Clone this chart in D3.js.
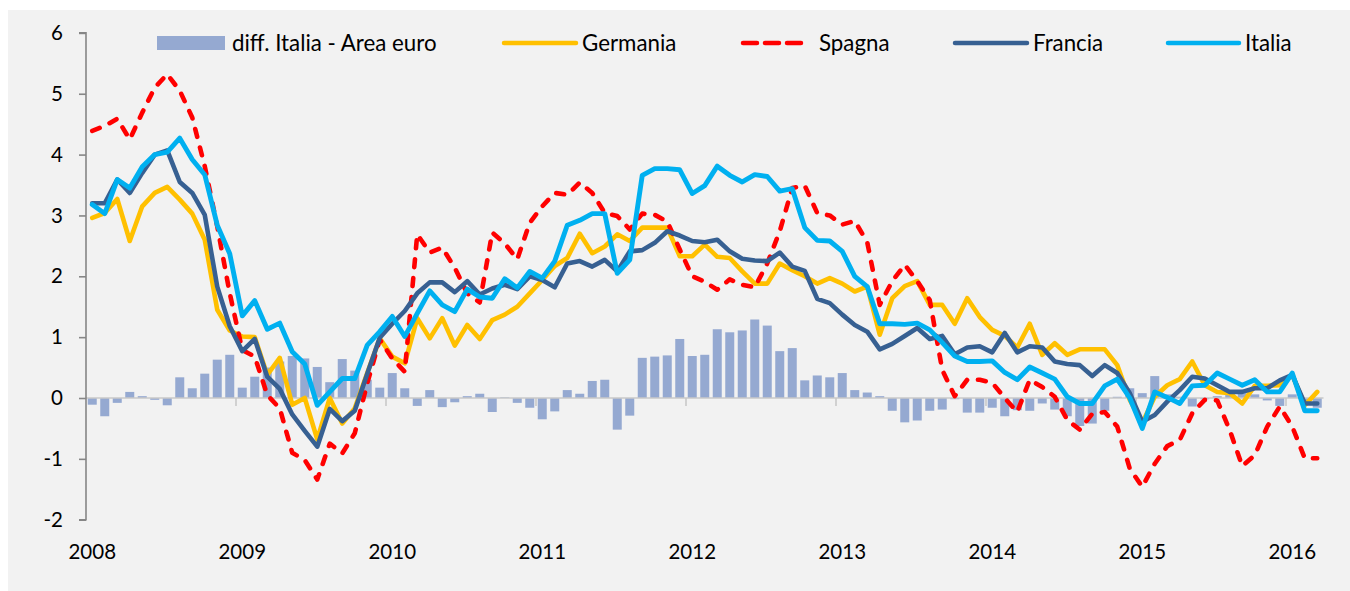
<!DOCTYPE html>
<html><head><meta charset="utf-8">
<script src="https://cdn.jsdelivr.net/npm/d3@7"></script>
<style>
body{margin:0;background:#fff}
svg{display:block}
text{font-family:Lato,"Open Sans",sans-serif;fill:#000}
</style>
</head><body>
<svg id="chart" width="1350" height="591"></svg>
<script>
// ---------- DATA ----------
const years = ["2008","2009","2010","2011","2012","2013","2014","2015","2016"];
const categories = [];
for (let i = 0; i < 99; i++) categories.push(years[Math.floor(i / 12)] + "-" + String(i % 12 + 1).padStart(2, "0"));
const yTicks = [-2, -1, 0, 1, 2, 3, 4, 5, 6];

const diffItaliaEuro = [
 -0.11,-0.30,-0.08,0.10,0.03,-0.03,-0.12,0.34,0.16,0.40,0.63,0.71,
 0.17,0.35,0.50,0.60,0.69,0.65,0.51,0.26,0.64,0.45,0.30,0.17,
 0.41,0.16,-0.13,0.13,-0.15,-0.07,0.03,0.07,-0.23,0.01,-0.08,-0.16,
 -0.35,-0.22,0.13,0.07,0.28,0.30,-0.52,-0.29,0.66,0.68,0.70,0.97,
 0.69,0.71,1.13,1.08,1.11,1.29,1.19,0.77,0.82,0.29,0.37,0.34,
 0.41,0.13,0.09,0.03,-0.21,-0.40,-0.37,-0.21,-0.19,-0.02,-0.24,-0.24,
 -0.16,-0.30,-0.20,-0.21,-0.09,-0.19,-0.30,-0.46,-0.42,-0.21,0.02,0.16,
 0.08,0.36,0.06,0.02,-0.14,-0.02,0.03,0.13,0.08,0.06,-0.04,-0.13,
 0.06,-0.08,-0.16];

const germania = [
 2.96,3.04,3.27,2.58,3.15,3.37,3.47,3.26,3.03,2.60,1.45,1.11,
 1.01,1.00,0.38,0.66,-0.11,0.00,-0.68,0.00,-0.42,-0.17,0.41,0.98,
 0.68,0.57,1.31,0.98,1.31,0.86,1.20,0.97,1.28,1.37,1.50,1.72,
 1.94,2.17,2.30,2.70,2.38,2.49,2.69,2.58,2.80,2.80,2.80,2.33,
 2.33,2.52,2.32,2.30,2.08,1.88,1.88,2.21,2.10,2.00,1.88,1.97,
 1.88,1.75,1.83,1.04,1.64,1.84,1.92,1.53,1.53,1.22,1.64,1.33,
 1.12,1.02,0.83,1.22,0.71,0.90,0.71,0.80,0.80,0.80,0.54,-0.03,
 -0.41,0.02,0.21,0.31,0.60,0.21,0.10,0.08,-0.09,0.20,0.20,0.21,
 0.38,-0.12,0.10];

const spagna = [
 4.39,4.47,4.59,4.25,4.69,5.10,5.32,5.05,4.61,3.81,2.82,1.72,
 0.79,0.68,0.05,-0.17,-0.90,-1.02,-1.34,-0.75,-0.91,-0.58,0.24,0.96,
 0.65,0.43,2.69,2.39,2.47,2.14,1.72,1.57,2.72,2.54,2.28,2.88,
 3.15,3.37,3.34,3.54,3.37,3.04,2.99,2.77,3.03,3.01,2.90,2.44,
 2.00,1.91,1.78,1.95,1.86,1.82,2.21,2.74,3.45,3.49,3.04,3.00,
 2.85,2.91,2.56,1.53,1.92,2.19,1.92,1.61,0.46,0.03,0.30,0.30,
 0.25,0.00,-0.23,0.30,0.18,0.02,-0.36,-0.52,-0.26,-0.23,-0.47,-1.16,
 -1.46,-1.08,-0.79,-0.69,-0.25,-0.03,-0.04,-0.53,-1.12,-0.94,-0.47,-0.14,
 -0.47,-0.99,-0.99];

const francia = [
 3.20,3.20,3.59,3.37,3.70,4.00,4.07,3.55,3.37,3.01,1.83,1.18,
 0.77,0.97,0.35,0.15,-0.27,-0.54,-0.80,-0.18,-0.38,-0.21,0.40,0.99,
 1.22,1.43,1.72,1.90,1.90,1.74,1.92,1.70,1.80,1.86,1.79,2.00,
 1.94,1.82,2.21,2.25,2.16,2.27,2.08,2.41,2.43,2.55,2.74,2.67,
 2.58,2.56,2.60,2.41,2.29,2.26,2.25,2.39,2.16,2.09,1.63,1.56,
 1.37,1.20,1.09,0.80,0.89,1.02,1.15,0.97,1.02,0.72,0.83,0.85,
 0.75,1.07,0.75,0.85,0.83,0.60,0.56,0.54,0.36,0.54,0.41,0.08,
 -0.39,-0.28,-0.06,0.13,0.35,0.32,0.21,0.10,0.10,0.16,0.16,0.29,
 0.38,-0.09,-0.09];

const italia = [
 3.18,3.03,3.59,3.45,3.80,4.00,4.04,4.27,3.92,3.67,2.84,2.37,
 1.35,1.60,1.13,1.23,0.76,0.56,-0.12,0.10,0.32,0.32,0.87,1.09,
 1.34,1.01,1.39,1.76,1.53,1.42,1.79,1.66,1.64,1.96,1.81,2.08,
 1.97,2.25,2.84,2.92,3.03,3.03,2.05,2.27,3.66,3.77,3.77,3.75,
 3.36,3.49,3.81,3.66,3.55,3.67,3.64,3.40,3.44,2.80,2.59,2.58,
 2.41,2.00,1.83,1.22,1.22,1.21,1.23,1.12,0.91,0.69,0.60,0.60,
 0.61,0.42,0.30,0.51,0.41,0.31,0.02,-0.09,-0.09,0.20,0.31,0.00,
 -0.50,0.10,0.01,-0.09,0.20,0.21,0.41,0.31,0.21,0.30,0.10,0.10,
 0.41,-0.21,-0.21];

const seriesNames = ["diff. Italia - Area euro","Germania","Spagna","Francia","Italia"];

// ---------- CHART ----------
const svg = d3.select("#chart");
svg.append("rect").attr("x",8).attr("y",10).attr("width",1342).attr("height",581).attr("fill","#f2f2f2");

const x = d3.scaleBand().domain(categories).range([86, 1323.5]).paddingInner(0.28).paddingOuter(0.14);
const y = d3.scaleLinear().domain([-2, 6]).range([519.7, 32.9]);
const cx = d => x(d) + x.bandwidth() / 2;

// bars
svg.append("g").selectAll("rect").data(categories).join("rect")
  .attr("x", d => x(d))
  .attr("width", x.bandwidth())
  .attr("y", (d,i) => Math.min(y(diffItaliaEuro[i]), y(0)))
  .attr("height", (d,i) => Math.abs(y(diffItaliaEuro[i]) - y(0)))
  .attr("fill", "#95a9d1");

// zero baseline + year ticks (category axis)
const xAxisG = svg.append("g").attr("transform", `translate(0,${y(0)})`);
xAxisG.append("line").attr("x1",86).attr("x2",1323.5).attr("y1",0).attr("y2",0)
  .attr("stroke","#c8c8c8").attr("stroke-width",1.6);
xAxisG.selectAll("line.yt").data(years.slice(1)).join("line").attr("class","yt")
  .attr("x1", d => x(d + "-01") - x.step()*x.paddingInner()/2).attr("x2", d => x(d + "-01") - x.step()*x.paddingInner()/2)
  .attr("y1",0).attr("y2",8).attr("stroke","#c8c8c8").attr("stroke-width",1.6);

// year labels via axis
const yearCats = years.map(yv => yv + "-01");
const xLab = d3.axisBottom(x).tickValues(yearCats).tickSize(0).tickPadding(0).tickFormat(d => d.slice(0,4));
const gxl = svg.append("g").attr("transform", "translate(0,545)").call(xLab);
gxl.select(".domain").remove();
gxl.selectAll("text").attr("font-size",20.5).attr("fill","#000").attr("dy","0.35em").attr("y",7)
  .style("font-family","Lato, 'Open Sans', sans-serif");

// y axis
const yAx = d3.axisLeft(y).tickValues(yTicks).tickSize(7).tickPadding(16).tickFormat(d => String(d));
const gy = svg.append("g").attr("transform","translate(86,0)").call(yAx);
gy.select(".domain").attr("stroke","#868686").attr("stroke-width",1.6).attr("d", `M-7,${y(6)}H0V${y(-2)}H-7`);
gy.selectAll(".tick line").attr("stroke","#868686").attr("stroke-width",1.6);
gy.selectAll(".tick text").attr("font-size",20.5).attr("fill","#000")
  .style("font-family","Lato, 'Open Sans', sans-serif");

// lines
const line = arr => d3.line().x((d,i) => cx(categories[i])).y(d => y(d))(arr);
const styles = [
  {data: germania, color: "#ffc000", dash: null, w: 4.6},
  {data: spagna, color: "#ff0000", dash: "8,11", w: 4.6},
  {data: francia, color: "#376092", dash: null, w: 4.6},
  {data: italia, color: "#00b0f0", dash: null, w: 4.9}
];
styles.forEach(s => {
  svg.append("path").attr("d", line(s.data)).attr("fill","none")
    .attr("stroke", s.color).attr("stroke-width", s.w)
    .attr("stroke-linejoin","round").attr("stroke-linecap","round")
    .attr("stroke-dasharray", s.dash);
});

// legend
const lg = svg.append("g").attr("font-size",22.3);
lg.append("rect").attr("x",157).attr("y",36).attr("width",68).attr("height",14).attr("fill","#95a9d1");
lg.append("text").attr("x",232).attr("y",43).attr("dy","0.35em").text(seriesNames[0]);
const legendItems = [
  {x1:504, x2:576, tx:582, s: styles[0], name: seriesNames[1]},
  {x1:743, x2:805, tx:819, s: styles[1], name: seriesNames[2]},
  {x1:955, x2:1027, tx:1033, s: styles[2], name: seriesNames[3]},
  {x1:1168, x2:1239, tx:1245, s: styles[3], name: seriesNames[4]}
];
legendItems.forEach(it => {
  lg.append("line").attr("x1",it.x1).attr("x2",it.x2).attr("y1",43).attr("y2",43)
    .attr("stroke", it.s.color).attr("stroke-width", 4.5).attr("stroke-linecap","round")
    .attr("stroke-dasharray", it.s.dash ? "14,8" : null);
  lg.append("text").attr("x",it.tx).attr("y",43).attr("dy","0.35em").text(it.name);
});
</script>
</body></html>
